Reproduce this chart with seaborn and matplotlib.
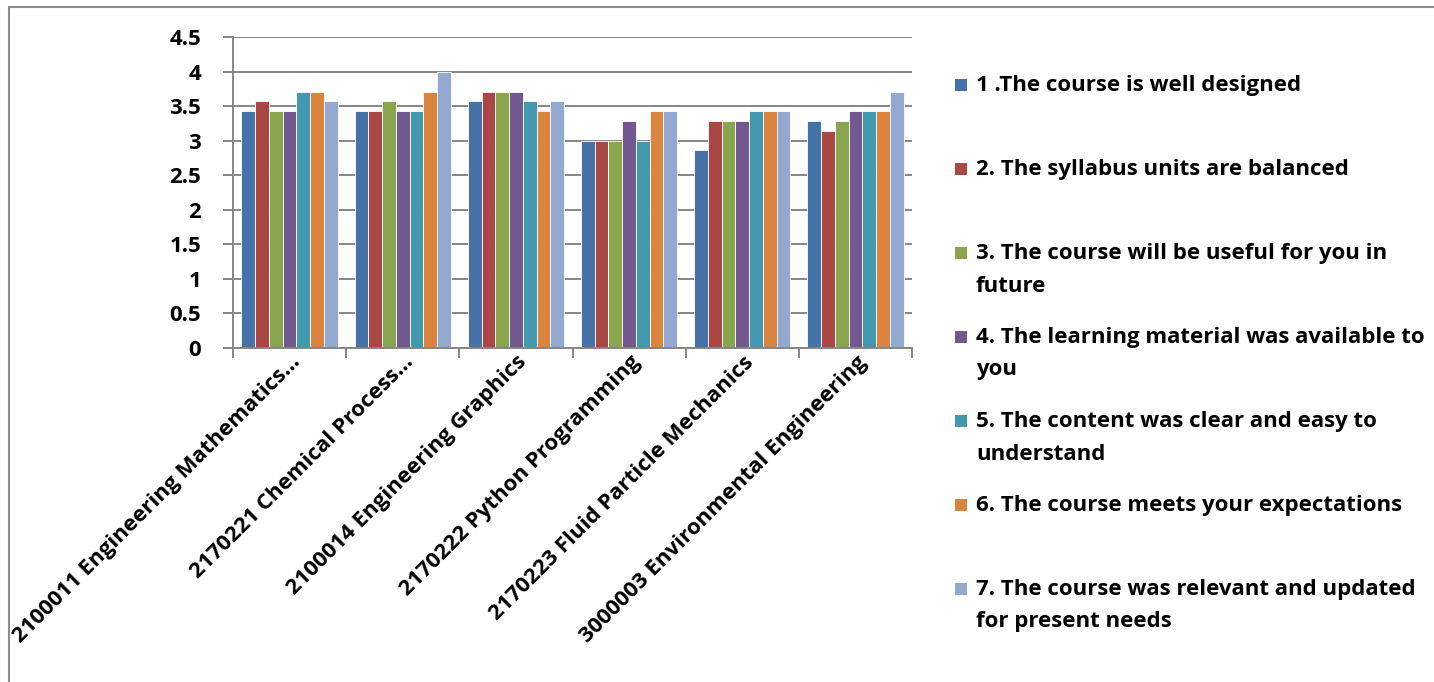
import pandas as pd
import matplotlib.pyplot as plt
import matplotlib.transforms as mtransforms
import seaborn as sns
from matplotlib.patches import Rectangle
from matplotlib.ticker import FuncFormatter, FixedLocator

courses = [
    "2100011 Engineering Mathematics...",
    "2170221 Chemical Process...",
    "2100014 Engineering Graphics",
    "2170222 Python Programming",
    "2170223 Fluid Particle Mechanics",
    "3000003 Environmental Engineering",
]

questions = [
    "1 .The course is well designed",
    "2. The syllabus units are balanced",
    "3. The course will be useful for you in\nfuture",
    "4. The learning material was available to\nyou",
    "5. The content was clear and easy to\nunderstand",
    "6. The course meets your expectations",
    "7. The course was relevant and updated\nfor present needs",
]

# ett värde per kurs, i samma ordning som courses
q1 = [3.43, 3.43, 3.57, 3.00, 2.86, 3.29]
q2 = [3.57, 3.43, 3.71, 3.00, 3.29, 3.14]
q3 = [3.43, 3.57, 3.71, 3.00, 3.29, 3.29]
q4 = [3.43, 3.43, 3.71, 3.29, 3.29, 3.43]
q5 = [3.71, 3.43, 3.57, 3.00, 3.43, 3.43]
q6 = [3.71, 3.71, 3.43, 3.43, 3.43, 3.43]
q7 = [3.57, 4.00, 3.57, 3.43, 3.43, 3.71]

colors = ["#4572A7", "#AA4643", "#89A54E", "#71588F", "#4198AF", "#DB843D", "#93A9CF"]
grid_gray = "#868686"

rows = []
for q, vals in zip(questions, [q1, q2, q3, q4, q5, q6, q7]):
    for c, v in zip(courses, vals):
        rows.append({"course": c, "question": q, "score": v})
df = pd.DataFrame(rows)

sns.set_style("white", {"text.color": "black", "xtick.color": "black",
                        "ytick.color": "black"})
plt.rcParams["font.family"] = ["Open Sans", "DejaVu Sans"]
plt.rcParams["font.weight"] = "bold"
FS = 16

W, H = 1434, 682
fig = plt.figure(figsize=(W / 100, H / 100), dpi=100)
ax = fig.add_axes([233 / W, (H - 348) / H, (912 - 233) / W, (348 - 37) / H])

sns.barplot(data=df, x="course", y="score", hue="question", order=courses,
            hue_order=questions, palette=colors, saturation=1, width=0.85, gap=0,
            edgecolor="white", linewidth=0.6, legend=False, ax=ax)

ax.set_ylim(0, 4.5)
ax.set_xlim(-0.5, len(courses) - 0.5)
ax.set_yticks([i * 0.5 for i in range(10)])
ax.yaxis.set_major_formatter(FuncFormatter(lambda v, p: f"{v:g}"))
ax.yaxis.grid(True, color=grid_gray, linewidth=1.4)
ax.set_axisbelow(True)
ax.set_xlabel("")
ax.set_ylabel("")

for s in ["top", "right"]:
    ax.spines[s].set_visible(False)
for s in ["left", "bottom"]:
    ax.spines[s].set_color(grid_gray)
    ax.spines[s].set_linewidth(1.4)

ax.tick_params(axis="y", direction="out", length=7, width=1.4, color=grid_gray,
               pad=16, labelsize=FS, left=True, labelcolor="black")
ax.xaxis.set_minor_locator(FixedLocator([i - 0.5 for i in range(len(courses) + 1)]))
ax.tick_params(axis="x", which="minor", direction="out", length=7, width=1.4,
               color=grid_gray, bottom=True)
ax.tick_params(axis="x", which="major", length=0, pad=8, labelsize=FS,
               labelcolor="black")
shift = mtransforms.ScaledTranslation(8 / 100, 0, fig.dpi_scale_trans)
for lab in ax.get_xticklabels():
    lab.set_rotation(45)
    lab.set_ha("right")
    lab.set_va("center")
    lab.set_rotation_mode("anchor")
    lab.set_transform(lab.get_transform() + shift)
for lab in ax.get_yticklabels() + ax.get_xticklabels():
    lab.set_fontweight("bold")

# legend
ys = [85, 169, 253, 337, 421, 505, 589]
for q, col, y in zip(questions, colors, ys):
    fig.add_artist(Rectangle((955 / W, (H - y - 6) / H), 12 / W, 12 / H,
                             facecolor=col, edgecolor="none", transform=fig.transFigure))
    for i, line in enumerate(q.split("\n")):
        fig.text(976 / W, (H - y - i * 33) / H, line, fontsize=FS, fontweight="bold",
                 color="black", va="center", ha="left")

# ram runt diagrammet
fig.add_artist(Rectangle((9 / W, -0.05), 1.1, (H - 7) / H + 0.05, fill=False,
                         edgecolor="#8c8c8c", linewidth=1.5, transform=fig.transFigure))

fig.savefig("out.png", dpi=100)
